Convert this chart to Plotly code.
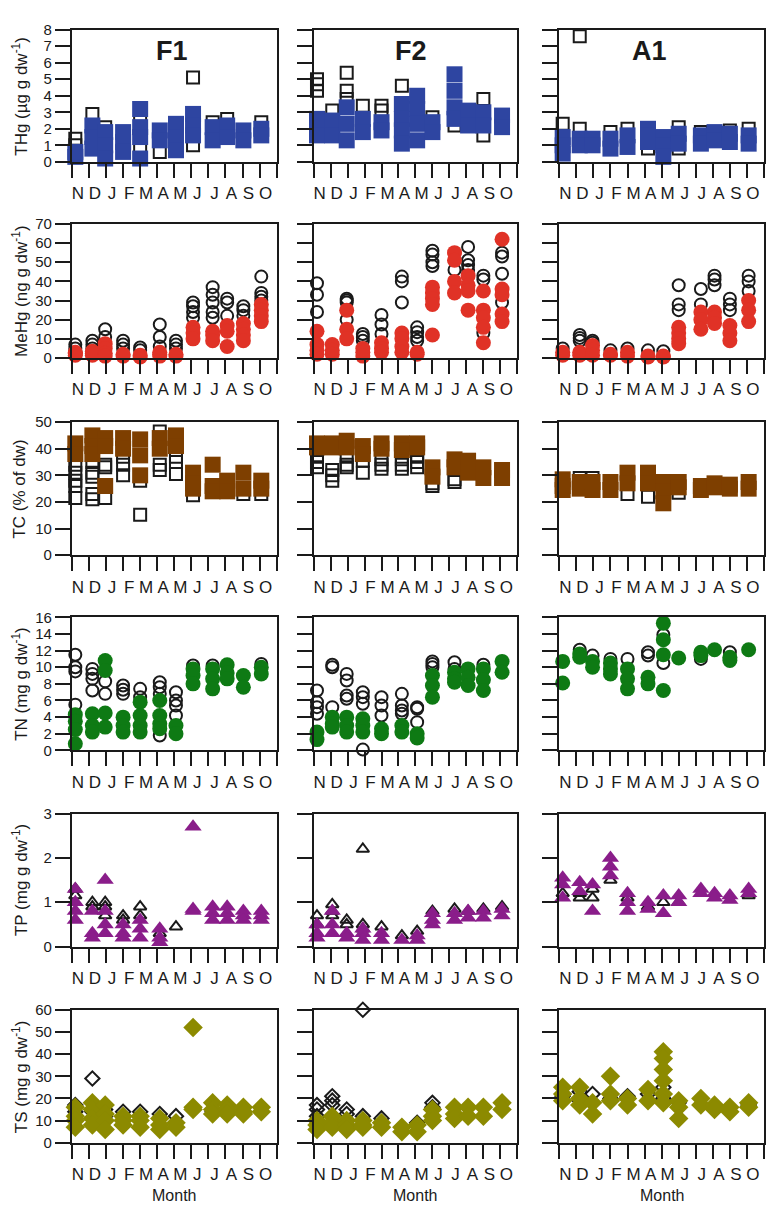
import plotly.graph_objects as go

W, H = 766, 1207
FONT = "Arial, Liberation Sans, sans-serif"

MONTHS = ["N", "D", "J", "F", "M", "A", "M", "J", "J", "A", "S", "O"]
SITES = ["F1", "F2", "A1"]

# sampling positions (month index, fractional within month)
X_F1 = [0.2, 1.2, 1.95, 3.0, 4.0, 5.15, 6.1, 7.1, 8.25, 9.1, 10.05, 11.1]
X_F2 = [0.2, 1.1, 1.95, 2.9, 4.0, 5.2, 6.1, 7.0, 8.3, 9.1, 10.0, 11.1]
X_A1 = [0.2, 1.2, 1.95, 3.0, 4.0, 5.2, 6.1, 7.0, 8.3, 9.1, 10.0, 11.1]

# ---------------- THg (ug g dw-1) ----------------
THG_F1_OPEN = [[1.4, 1.0], [2.9, 2.0], [2.1], [], [2.7, 0.8], [0.6], [], [5.1, 1.0], [2.4], [2.6], [], [2.4]]
THG_F1_FILL = [[0.3, 0.6], [2.2, 1.5, 0.8], [1.8, 1.0, 0.2], [1.8, 1.2, 0.6], [3.2, 2.1, 1.5, 0.2], [1.9, 1.3],
               [2.3, 1.5, 0.7], [2.9, 2.2, 1.6], [2.1, 1.3], [2.2, 1.5], [1.9, 1.3], [2.0, 1.6]]
THG_F2_OPEN = [[5.0, 4.7, 4.3], [3.1], [5.4, 4.3, 3.8], [3.4], [3.4, 3.1], [4.6], [], [2.7], [2.2], [], [3.8, 1.6], []]
THG_F2_FILL = [[2.6, 2.0, 1.6], [2.5, 1.6], [3.3, 2.3, 1.3], [2.6, 1.8], [2.4, 1.9], [3.5, 2.6, 1.9, 1.1],
               [4.0, 3.2, 2.3, 1.3], [2.4, 1.8], [5.3, 4.3, 3.3, 2.6], [3.1, 2.2], [3.0, 2.2], [2.8, 2.1]]
THG_A1_OPEN = [[2.3], [7.6, 2.0], [], [1.8], [2.0], [0.8], [], [2.1, 0.8], [1.8], [], [1.9], [2.0]]
THG_A1_FILL = [[1.5, 1.0, 0.5], [1.4, 1.0], [1.4, 1.0], [1.4, 0.8], [1.6, 0.9], [2.0, 1.6, 1.2],
               [1.5, 1.0, 0.3], [1.7, 1.1], [1.6, 1.1], [1.8, 1.3], [1.7, 1.2], [1.6, 1.1]]

# ---------------- MeHg (ng g dw-1) ----------------
MEHG_F1_OPEN = [[7, 5, 3], [9, 7, 5], [15, 11, 7], [9, 7, 5], [5.5, 4], [17.5, 11, 6], [9, 7, 5],
                [29, 27, 24, 21], [37, 33, 29, 24, 21], [31, 29, 22], [27, 25, 22], [42.5, 34, 32, 30]]
MEHG_F1_FILL = [[1.5, 2.5, 3], [1.5, 2.5, 3.5], [7.5, 5, 2.5, 1], [2, 1], [1.5, 0.5], [3, 2, 1], [2, 1],
                [16, 13, 10], [14, 12, 9], [17, 14, 6], [18, 15, 12, 9], [28, 25, 22, 19]]
MEHG_F2_OPEN = [[39, 33, 24], [], [31, 30, 29, 20], [12.5, 11, 9], [22.5, 17.5, 12.5], [42.5, 40, 29],
                [16, 13.5, 11, 9], [56, 54, 50, 48], [46], [58, 51, 48.5, 46], [43, 41, 13], [55, 53, 44, 29]]
MEHG_F2_FILL = [[14, 7, 4, 2], [7, 4, 2], [25, 15, 10], [5, 3, 1], [8, 5, 3], [13, 10, 6, 3], [3, 2],
                [37, 34, 31, 28, 12], [55, 51, 40, 34], [43, 38, 35, 25], [35, 25, 21, 16, 8], [62, 36, 33, 23, 19]]
MEHG_A1_OPEN = [[5], [12, 10.5, 9], [9, 8], [4], [5], [4], [3.5], [38, 28, 25], [36, 28], [43, 41, 38],
                [31, 28, 25], [43, 40, 35]]
MEHG_A1_FILL = [[3, 1.5], [3, 1.5], [6.5, 4, 1.5], [1.5, 2], [3, 1], [1, 0.5], [1, 0.5], [16, 13, 10, 7.5],
                [24, 20, 15], [24, 21, 18], [17, 13, 9], [30, 25, 19]]

# ---------------- TC (% of dw) ----------------
TC_F1_OPEN = [[34, 31, 28, 26, 21.5], [35, 31, 29.5, 23, 21], [34, 33, 21.5], [37, 34, 30], [28, 15.2],
              [46.5, 34, 32], [37, 35, 30.5], [22.5], [], [], [23], [23]]
TC_F1_FILL = [[42, 38], [45, 41, 38], [44, 41, 26], [44, 40], [43.5, 37.5, 30], [44, 40], [45, 41],
              [31, 27, 25], [34, 26, 24], [28, 24], [31, 25], [28, 25]]
TC_F2_OPEN = [[37, 35, 33], [32, 30, 28], [37, 34, 33], [35.5, 31], [36, 34, 32.5], [36, 34, 32.5],
              [37, 35, 33], [26, 27], [28.5, 27.5], [], [], []]
TC_F2_FILL = [[42, 40.5], [42, 40.5], [43, 40.5], [41, 38], [42, 40], [42, 39.5], [42, 40.5], [33, 29.5],
              [36, 33], [35.5, 31], [33, 29], [32, 29]]
TC_A1_OPEN = [[], [29], [29], [], [23], [22], [], [23.5], [], [], [], []]
TC_A1_FILL = [[28.5, 26, 24.5], [27.5, 25], [27.5, 24.5], [27.5, 24.5], [31, 27], [31, 27], [27.5, 24, 19.5],
              [27.5, 25.5], [26, 24.5], [27, 25.5], [26.5, 25], [27.5, 25]]

# ---------------- TN (mg g dw-1) ----------------
TN_F1_OPEN = [[11.5, 10, 9.5, 5.5], [9.8, 9.2, 8.6, 7.2], [8.3, 6.8], [7.8, 7.3, 6.8], [7.4, 6.4],
              [8.2, 7.6, 6.8, 1.8], [7, 6, 5.4, 4.2], [10.2], [10.2], [], [], [10.4]]
TN_F1_FILL = [[4.3, 3.5, 2.5, 0.8], [4.4, 3, 2.2], [10.8, 9.6, 4.5, 2.8], [4, 3, 2.2], [5.8, 4.2, 3, 2.2],
              [6, 4.2, 3.2, 2.6], [3, 2], [9.8, 9, 8], [9.8, 8.6, 7.4], [10.3, 9.3, 8.6], [9, 7.6], [10, 9.2]]
TN_F2_OPEN = [[7.2, 5.8, 5.2, 4.4], [10.3, 10, 5.2], [9.2, 8.4, 6.6, 6.2], [7, 6.4, 5.6, 0.1], [6.4, 5.4, 4.2],
              [6.8, 5.4, 4.8, 4.4], [5.2, 5, 3.4], [10.7, 10.4, 10], [10.6, 9.8], [], [10.3, 8.5], []]
TN_F2_FILL = [[2.2, 1.3], [4, 3.2, 2.8], [4, 3, 2.2], [3.8, 3, 2.2], [2.6, 2], [3, 2.2], [2, 1.5],
              [9, 7.8, 6.4], [9.4, 8.6, 8.2], [9.8, 8.8, 7.8], [9.8, 8.5, 7.2], [10.7, 9.4]]
TN_A1_OPEN = [[], [12.1], [11.4], [11], [11], [11.8, 11.4], [13.9, 10.5], [], [11], [], [11.8], []]
TN_A1_FILL = [[10.7, 8.1], [11.6, 11.2], [10.7, 10], [10.5, 9.8, 9.2], [9.8, 8.6, 7.4], [8.8, 8],
              [15.3, 13.3, 11.5, 7.2], [11.1], [11.8, 11.4], [12.1], [11.2, 10.8], [12.1]]

# ---------------- TP (mg g dw-1) ----------------
TP_F1_OPEN = [[1.3, 1.15], [1.0, 0.9], [1.0, 0.9, 0.7], [0.7, 0.6], [0.9, 0.7], [0.3], [0.45], [], [], [], [], []]
TP_F1_FILL = [[1.3, 1.0, 0.8, 0.6], [0.8, 0.3, 0.2], [1.5, 0.8, 0.5, 0.3], [0.5, 0.3, 0.2], [0.6, 0.4, 0.2],
              [0.4, 0.2, 0.1], [], [2.7, 0.85, 0.8], [0.9, 0.75, 0.6], [0.9, 0.75, 0.6], [0.8, 0.7, 0.6], [0.8, 0.7, 0.6]]
TP_F2_OPEN = [[0.7, 0.5], [0.95, 0.8, 0.7], [0.6, 0.5], [2.2, 0.5, 0.4], [0.45], [0.25], [0.35], [0.8], [0.85],
              [0.8], [0.85], [0.9]]
TP_F2_FILL = [[0.5, 0.3, 0.2], [0.8, 0.5, 0.3], [0.3, 0.2], [0.4, 0.3, 0.15], [0.3, 0.15], [0.15], [0.25, 0.15],
              [0.75, 0.6, 0.5], [0.75, 0.6], [0.8, 0.65], [0.8, 0.65], [0.85, 0.7]]
TP_A1_OPEN = [[1.2], [1.2, 1.1], [1.3, 1.1], [1.5], [1.1], [0.9], [1.0], [1.0], [], [], [], [1.15]]
TP_A1_FILL = [[1.55, 1.4, 1.1], [1.45, 1.25], [1.4, 0.8], [2.0, 1.8, 1.6], [1.2, 1.0, 0.8], [1.0, 0.85],
              [1.15, 0.75], [1.15, 1.0], [1.3, 1.2], [1.2, 1.1], [1.15, 1.05], [1.3, 1.2]]

# ---------------- TS (mg g dw-1) ----------------
TS_F1_OPEN = [[17, 14], [29, 18, 14], [15, 12], [14, 12], [14], [13], [12], [15], [14], [], [], []]
TS_F1_FILL = [[16, 12, 10, 7], [18, 15, 11, 8], [17, 13, 10, 6], [12, 10, 8], [12, 10, 7], [11, 8, 6], [9, 7],
              [52, 16, 15], [18, 15, 13], [17, 15, 13], [16, 14, 13], [16, 14]]
TS_F2_OPEN = [[17, 15, 12], [21, 19, 17], [15, 13], [60, 12], [11], [7], [9], [18, 16], [16], [], [], []]
TS_F2_FILL = [[10, 8, 6], [12, 9, 7], [10, 8, 6], [10, 8, 7], [9, 7], [7, 5], [8, 5], [15, 12, 10],
              [16, 13, 11], [16, 12], [16, 12], [18, 15]]
TS_A1_OPEN = [[21], [23, 19], [22], [20], [21], [22], [25, 22, 20], [18], [], [], [], [17]]
TS_A1_FILL = [[25, 22, 19], [25, 20, 17], [18, 13], [30, 22, 19], [20, 17], [24, 19], [41, 38, 33, 28, 22, 18],
              [19, 16, 11], [20, 17], [17, 15], [16, 14], [18, 16]]

X_SITES = [X_F1, X_F2, X_A1]

ROWS = [
    dict(title="THg (µg g dw<sup>-1</sup>)", rng=[0, 8], dtick=1, sym="square", color="#2E45A1",
         fs=16, os=12, data=[(THG_F1_OPEN, THG_F1_FILL), (THG_F2_OPEN, THG_F2_FILL), (THG_A1_OPEN, THG_A1_FILL)]),
    dict(title="MeHg (ng g dw<sup>-1</sup>)", rng=[0, 70], dtick=10, sym="circle", color="#E03226",
         fs=15, os=12, data=[(MEHG_F1_OPEN, MEHG_F1_FILL), (MEHG_F2_OPEN, MEHG_F2_FILL), (MEHG_A1_OPEN, MEHG_A1_FILL)]),
    dict(title="TC (% of dw)", rng=[0, 50], dtick=10, sym="square", color="#7E3F00",
         fs=16, os=12, data=[(TC_F1_OPEN, TC_F1_FILL), (TC_F2_OPEN, TC_F2_FILL), (TC_A1_OPEN, TC_A1_FILL)]),
    dict(title="TN (mg g dw<sup>-1</sup>)", rng=[0, 16], dtick=2, sym="circle", color="#0E7A14",
         fs=15, os=12, data=[(TN_F1_OPEN, TN_F1_FILL), (TN_F2_OPEN, TN_F2_FILL), (TN_A1_OPEN, TN_A1_FILL)]),
    dict(title="TP (mg g dw<sup>-1</sup>)", rng=[0, 3], dtick=1, sym="triangle-up", color="#8A1D8A",
         fs=15, os=11, data=[(TP_F1_OPEN, TP_F1_FILL), (TP_F2_OPEN, TP_F2_FILL), (TP_A1_OPEN, TP_A1_FILL)]),
    dict(title="TS (mg g dw<sup>-1</sup>)", rng=[0, 60], dtick=10, sym="diamond", color="#8C8A00",
         fs=15, os=11, data=[(TS_F1_OPEN, TS_F1_FILL), (TS_F2_OPEN, TS_F2_FILL), (TS_A1_OPEN, TS_A1_FILL)]),
]

# layout geometry (pixels)
COL_X = [(72, 277), (314, 518), (560, 765)]
ROW_TOP = [21, 218, 419, 617, 816, 1015]
ROW_BOT = [155, 354, 554, 752, 951, 1150]

AX = "#1a1a1a"


def expand(xs, groups):
    px, py = [], []
    for x, g in zip(xs, groups):
        for v in g:
            px.append(x)
            py.append(v)
    return px, py


fig = go.Figure()
layout = {}
annotations = []

for r, row in enumerate(ROWS):
    for c in range(3):
        idx = r * 3 + c + 1
        sx = "" if idx == 1 else str(idx)
        xa, ya = "x" + sx, "y" + sx
        x0, x1 = COL_X[c]
        dom_x = [x0 / W, x1 / W]
        dom_y = [1 - ROW_BOT[r] / H, 1 - ROW_TOP[r] / H]
        opn, fil = row["data"][c]
        ox, oy = expand(X_SITES[c], opn)
        fx, fy = expand(X_SITES[c], fil)
        fig.add_trace(go.Scatter(
            x=ox, y=oy, mode="markers", xaxis=xa, yaxis=ya, cliponaxis=False,
            showlegend=False, hoverinfo="skip",
            marker=dict(symbol=row["sym"] + "-open", size=row["os"], color=AX,
                        line=dict(width=2, color=AX))))
        fig.add_trace(go.Scatter(
            x=fx, y=fy, mode="markers", xaxis=xa, yaxis=ya, cliponaxis=False,
            showlegend=False, hoverinfo="skip",
            marker=dict(symbol=row["sym"], size=row["fs"], color=row["color"],
                        line=dict(width=0))))
        layout["xaxis" + sx] = dict(
            domain=dom_x, anchor=ya, range=[0, 12], fixedrange=True,
            tickmode="array", tickvals=list(range(13)), ticktext=MONTHS + [""],
            ticks="outside", ticklen=14, tickwidth=2, tickcolor=AX,
            ticklabelshift=6, ticklabelstandoff=1,
            tickfont=dict(size=17, color=AX, family=FONT),
            showline=True, linewidth=2, linecolor=AX, mirror=True,
            showgrid=False, zeroline=False)
        layout["yaxis" + sx] = dict(
            domain=dom_y, anchor=xa, range=row["rng"], dtick=row["dtick"], tick0=0,
            fixedrange=True, ticks="outside", ticklen=15, tickwidth=2, tickcolor=AX,
            showticklabels=(c == 0), tickfont=dict(size=15, color=AX, family=FONT),
            showline=True, linewidth=2, linecolor=AX, mirror=True,
            showgrid=False, zeroline=False)
    annotations.append(dict(
        text=row["title"], textangle=-90, xref="paper", yref="paper",
        x=20 / W, y=1 - (ROW_TOP[r] + ROW_BOT[r]) / 2 / H, showarrow=False,
        xanchor="center", yanchor="middle", font=dict(size=17, color=AX, family=FONT)))

TITLE_X = [172, 412, 650]
for c, s in enumerate(SITES):
    annotations.append(dict(
        text="<b>%s</b>" % s, xref="paper", yref="paper", x=TITLE_X[c] / W, y=1 - 43 / H,
        showarrow=False, xanchor="center", yanchor="middle",
        font=dict(size=27, color=AX, family=FONT)))
    annotations.append(dict(
        text="Month", xref="paper", yref="paper", x=(COL_X[c][0] + COL_X[c][1]) / 2 / W,
        y=1 - 1203 / H, showarrow=False, xanchor="center", yanchor="middle",
        font=dict(size=16, color=AX, family=FONT)))

fig.update_layout(
    width=W, height=H, margin=dict(l=0, r=0, t=0, b=0),
    paper_bgcolor="white", plot_bgcolor="white",
    font=dict(family=FONT, color=AX),
    annotations=annotations, **layout)

fig.write_html("out.html")
